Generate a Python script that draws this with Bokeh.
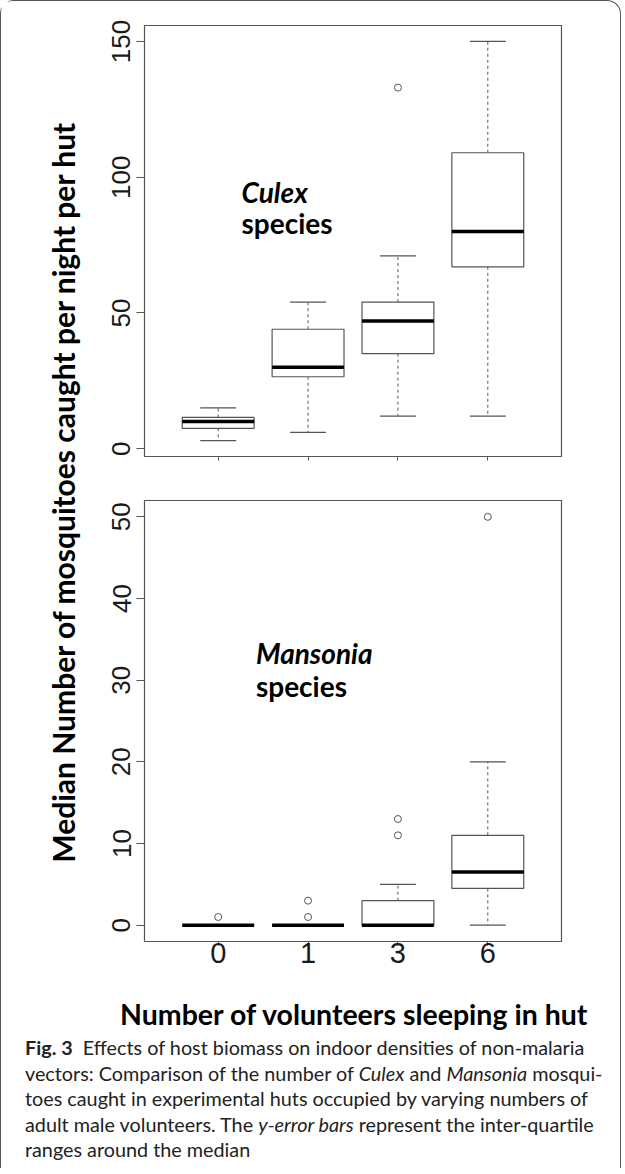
import math
from bokeh.plotting import figure
from bokeh.models import FactorRange, Range1d, FixedTicker, Label, Div, ColumnDataSource
from bokeh.layouts import column, row
from bokeh.transform import dodge
from bokeh.embed import file_html
from bokeh.resources import INLINE

# ---------------- data ----------------
categories = ["0", "1", "3", "6"]

culex_lower = [3, 6, 12, 12]
culex_q1 = [7.5, 26.5, 35, 67]
culex_median = [10, 30, 47, 80]
culex_q3 = [11.5, 44, 54, 109]
culex_upper = [15, 54, 71, 150]
culex_out_cat = ["3"]
culex_out_val = [133]
culex_ticks = [0, 50, 100, 150]

mansonia_lower = [0, 0, 0, 0]
mansonia_q1 = [0, 0, 0, 4.5]
mansonia_median = [0, 0, 0, 6.5]
mansonia_q3 = [0, 0, 3, 11]
mansonia_upper = [0, 0, 5, 20]
mansonia_out_cat = ["0", "1", "1", "3", "3", "6"]
mansonia_out_val = [1, 1, 3, 11, 13, 50]
mansonia_ticks = [0, 10, 20, 30, 40, 50]

y_label = "Median Number of mosquitoes caught per night per hut"
x_label = "Number of volunteers sleeping in hut"

LINE = "#555555"
TICK_FONT = "Liberation Sans"
LBL_FONT = "Lato"


def make_panel(lower, q1, med, q3, upper, out_cat, out_val, ticks, width, height,
               mbl, mbr, mbt, mbb, show_xlabels):
    vals = lower + q1 + med + q3 + upper + out_val
    lo, hi = min(vals), max(vals)
    pad = 0.04 * (hi - lo)
    p = figure(width=width, height=height, title=None,
               x_range=FactorRange(factors=categories, range_padding=0.32,
                                   range_padding_units="absolute"),
               y_range=Range1d(lo - pad, hi + pad),
               output_backend="svg", toolbar_location=None,
               min_border_left=mbl, min_border_right=mbr,
               min_border_top=mbt, min_border_bottom=mbb)
    p.xgrid.visible = False
    p.ygrid.visible = False
    p.outline_line_color = LINE
    p.outline_line_width = 1.2
    p.background_fill_color = "white"
    p.border_fill_color = "white"

    src = ColumnDataSource(dict(cat=categories, lower=lower, q1=q1, med=med, q3=q3, upper=upper))
    # whiskers (dashed)
    p.segment(x0="cat", y0="q3", x1="cat", y1="upper", source=src,
              line_color=LINE, line_width=1, line_dash="3 3")
    p.segment(x0="cat", y0="q1", x1="cat", y1="lower", source=src,
              line_color=LINE, line_width=1, line_dash="3 3")
    # staples
    for col in ("upper", "lower"):
        p.segment(x0=dodge("cat", -0.2, range=p.x_range), y0=col,
                  x1=dodge("cat", 0.2, range=p.x_range), y1=col, source=src,
                  line_color=LINE, line_width=1.2)
    # boxes
    p.vbar(x="cat", top="q3", bottom="q1", width=0.8, source=src,
           fill_color="white", line_color=LINE, line_width=1.2)
    # medians
    p.segment(x0=dodge("cat", -0.4, range=p.x_range), y0="med",
              x1=dodge("cat", 0.4, range=p.x_range), y1="med", source=src,
              line_color="black", line_width=3.5, line_cap="butt")
    # outliers
    p.scatter(x=out_cat, y=out_val, marker="circle", size=7,
              fill_color=None, line_color=LINE, line_width=1)

    ax = p.yaxis[0]
    ax.ticker = FixedTicker(ticks=ticks)
    ax.major_label_orientation = "vertical"
    ax.axis_line_color = None
    ax.major_tick_line_color = LINE
    ax.major_tick_out = 8
    ax.major_tick_in = 0
    ax.minor_tick_line_color = None
    ax.major_label_text_font = TICK_FONT
    ax.major_label_text_font_size = "26px"
    ax.major_label_text_color = "#1a1a1a"
    ax.major_label_standoff = 6

    xa = p.xaxis[0]
    xa.axis_line_color = None
    xa.major_tick_line_color = LINE
    xa.major_tick_out = 4
    xa.major_tick_in = 0
    xa.major_label_text_font = TICK_FONT
    if show_xlabels:
        xa.major_label_text_color = "#1a1a1a"
        xa.major_label_text_font_size = "29px"
        xa.major_label_standoff = -3
    else:
        # the upper panel shows tick marks only, no tick labels
        xa.major_label_text_color = None
        xa.major_label_text_font_size = "10px"
        xa.major_label_standoff = 0
    return p


H1, H2 = 477, 510
p1 = make_panel(culex_lower, culex_q1, culex_median, culex_q3, culex_upper,
                culex_out_cat, culex_out_val, culex_ticks,
                529, H1, 63, 49, 24, 22, False)
p2 = make_panel(mansonia_lower, mansonia_q1, mansonia_median, mansonia_q3, mansonia_upper,
                mansonia_out_cat, mansonia_out_val, mansonia_ticks,
                529, H2, 62, 42, 22, 47, True)

for p, lab, xx, y1, y2 in ((p1, "Culex", 0.76, 94.5, 83.1), (p2, "Mansonia", 0.92, 33.3, 29.3)):
    p.add_layout(Label(x=xx, y=y1, text=lab, text_font=LBL_FONT, text_font_size="28px",
                       text_font_style="bold italic", text_color="black",
                       text_baseline="alphabetic"))
    p.add_layout(Label(x=xx, y=y2, text="species", text_font=LBL_FONT, text_font_size="28px",
                       text_font_style="bold", text_color="black",
                       text_baseline="alphabetic"))

ylab = figure(width=80, height=H1 + H2, x_range=(0, 80), y_range=(0, H1 + H2), title=None,
              output_backend="svg", toolbar_location=None,
              x_axis_location=None, y_axis_location=None, min_border=0)
ylab.grid.visible = False
ylab.outline_line_color = None
ylab.add_layout(Label(x=61, y=497, text=y_label, angle=math.pi / 2, text_align="center",
                      text_baseline="middle", text_font=LBL_FONT, text_font_size="30px",
                      text_font_style="bold", text_color="black"))

bottom_html = (
    '<div style="font-family: Lato, sans-serif; font-weight: bold; font-size: 28.5px; '
    'line-height: 42px; height: 42px; padding-left: 114px; white-space: nowrap; color: #000;">'
    + x_label + '</div>'
    '<div style="font-family: Lato, sans-serif; font-size: 19.8px; line-height: 25.6px; '
    'color: #222; white-space: nowrap; padding-left: 19px;">'
    '<b>Fig. 3</b>&nbsp; Effects of host biomass on indoor densities of non-malaria<br>'
    'vectors: Comparison of the number of <i>Culex</i> and <i>Mansonia</i> mosqui-<br>'
    'toes caught in experimental huts occupied by varying numbers of<br>'
    'adult male volunteers. The <i>y-error bars</i> represent the inter-quartile<br>'
    'ranges around the median</div>'
)
caption = Div(text=bottom_html, width=609, height=170)

root = column(row(ylab, column(p1, p2, spacing=0), spacing=0), caption, spacing=0,
              styles={"border-top": "1.5px solid #555", "border-left": "1.5px solid #555",
                      "border-right": "1.5px solid #555",
                      "border-top-left-radius": "14px", "border-top-right-radius": "14px"})

open("out.html", "w").write(file_html(root, INLINE))
